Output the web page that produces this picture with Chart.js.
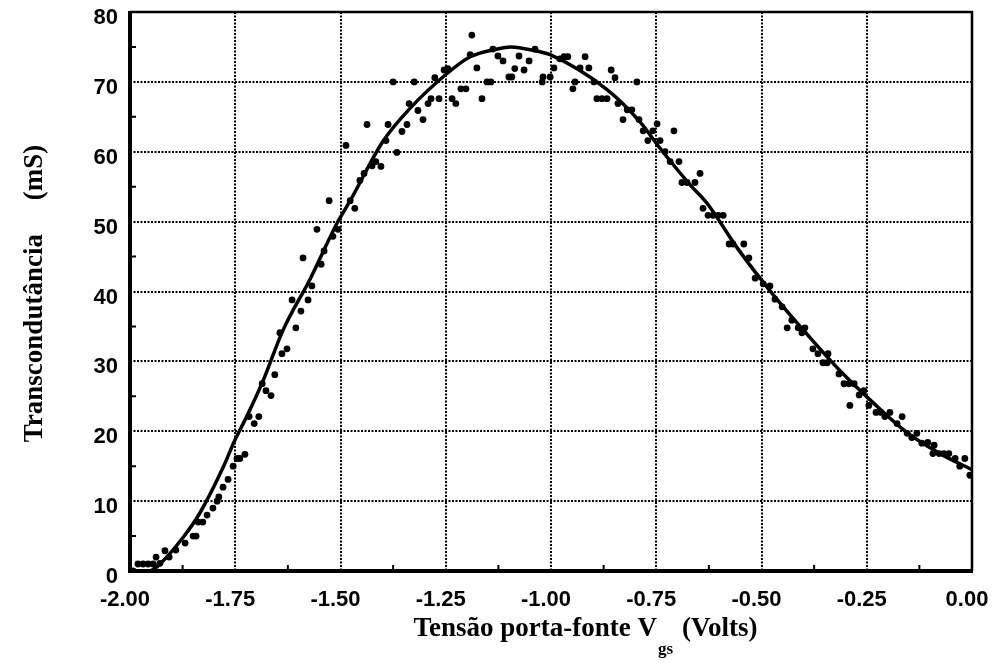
<!DOCTYPE html>
<html>
<head>
<meta charset="utf-8">
<title>Transcondutância x Vgs</title>
<script src="https://cdn.jsdelivr.net/npm/chart.js@4.4.1/dist/chart.umd.min.js"></script>
<style>
  html, body { margin: 0; padding: 0; background: #fff; }
</style>
</head>
<body>
<canvas id="gmChart" width="998" height="663"></canvas>
<script>
// measured points: gate-source voltage (V) and transconductance (mS)
const vgsMeas = [
  -1.993,-1.981,-1.969,-1.957,-1.945,-1.938,-1.929,-1.917,-1.907,-1.891,-1.869,-1.850,-1.843,-1.838,-1.827,-1.817,
  -1.803,-1.793,-1.789,-1.779,-1.767,-1.755,-1.746,-1.739,-1.727,-1.717,-1.705,-1.694,-1.686,-1.677,-1.665,
  -1.656,-1.639,-1.627,-1.644,-1.606,-1.594,-1.615,-1.577,-1.568,-1.589,-1.546,-1.539,-1.556,-1.518,-1.506,-1.466,
  -1.527,-1.477,-1.487,-1.454,-1.444,-1.425,-1.416,-1.404,-1.392,-1.366,-1.437,-1.387,-1.354,-1.342,-1.337,-1.316,
  -1.304,-1.292,-1.285,-1.266,-1.276,-1.375,-1.325,-1.254,-1.245,-1.235,-1.226,-1.214,-1.202,-1.192,-1.188,-1.176,
  -1.164,-1.152,-1.143,-1.138,-1.126,-1.114,-1.100,-1.093,-1.086,-1.076,-1.064,-1.052,-1.038,
  -1.021,-1.019,-1.002,-0.993,-0.979,-0.969,-0.960,-0.919,-0.931,-0.910,-0.943,-0.948,-0.898,-0.857,-0.848,-0.796,
  -0.891,-0.879,-0.867,-0.841,-0.819,-0.808,-0.829,-0.791,-0.781,-0.770,-0.758,-0.748,-0.741,-0.708,-0.729,-0.717,
  -0.696,-0.689,-0.677,-0.658,-0.646,-0.639,-0.627,-0.615,-0.603,-0.591,-0.577,-0.568,-0.542,
  -0.530,-0.515,-0.496,-0.480,-0.468,-0.451,-0.428,-0.439,-0.413,-0.397,-0.404,-0.378,-0.366,-0.342,-0.354,-0.344,
  -0.316,-0.304,-0.292,-0.280,-0.268,-0.257,
  -0.290,-0.245,-0.228,-0.216,-0.207,-0.195,-0.178,-0.166,-0.154,-0.143,-0.131,-0.119,-0.105,-0.093,-0.090,-0.078,
  -0.067,-0.055,-0.040,-0.029,-0.017,-0.005
];
const gmMeas = [
  0,1.0,1.0,1.0,1.0,2.0,1.1,2.9,2.0,3.0,4.0,5.0,5.0,7.0,7.0,8.0,
  9.0,10.0,10.6,12.0,13.1,15.0,16.1,16.1,16.7,22.1,21.1,22.1,26.8,25.8,25.1,
  28.1,31.1,31.8,34.1,34.8,37.2,38.8,38.8,40.8,44.8,43.9,45.8,48.9,47.9,48.9,51.9,
  53.0,53.0,60.9,55.9,56.9,58.0,58.6,57.9,61.6,59.9,63.9,63.9,62.9,63.9,66.9,65.9,
  64.6,66.9,67.6,67.6,70.6,70.0,70.0,71.7,71.9,67.6,66.9,69.0,69.0,73.9,76.7,72.0,
  67.6,70.0,70.0,74.7,73.7,73.0,70.7,70.7,71.9,73.7,71.7,73.0,74.7,
  70.0,70.7,70.7,72.0,73.3,73.6,73.6,73.6,72.0,72.0,70.0,69.0,70.0,71.7,70.6,70.0,
  67.6,67.6,67.6,66.9,66.0,66.0,64.6,64.6,63.0,61.6,63.0,64.0,61.6,63.0,60.0,58.6,
  58.6,55.6,55.6,55.6,56.9,51.9,50.9,50.9,50.9,50.9,46.8,46.8,46.8,
  44.8,41.9,41.1,40.8,38.9,37.8,35.9,34.8,34.8,34.8,34.1,31.8,31.1,31.1,29.8,29.8,
  28.2,26.8,26.8,26.8,25.2,25.8,
  23.7,23.7,22.7,22.7,22.1,22.7,21.1,22.1,19.7,19.1,19.7,18.3,18.4,16.8,18.0,16.8,
  16.8,16.8,16.1,15.0,16.1,13.7
];

// fitted curve
const vgsFit = [-1.952,-1.936,-1.874,-1.834,-1.779,-1.751,-1.722,-1.684,-1.637,-1.572,-1.508,-1.477,-1.399,
  -1.335,-1.247,-1.192,-1.128,-1.097,-1.026,-1.002,-0.867,-0.789,-0.741,-0.670,-0.629,-0.556,-0.473,-0.392,
  -0.314,-0.235,-0.154,-0.076,0.0];
const gmFit = [0,0.6,4.8,8.3,14.8,18.7,22.2,27.2,34.4,41.8,49.8,53.0,61.5,
  66.2,71.2,73.6,74.7,75.0,74.3,73.9,68.9,64.3,60.5,55.3,52.6,46.1,39.6,33.9,
  28.7,24.1,19.8,16.8,14.5];

const xMinorTicks = [-1.875,-1.625,-1.375,-1.125,-0.875,-0.625,-0.375,-0.125];
const yMinorTicks = [5,15,25,35,45,55,65,75];

const yTitle = 'Transcondutância     (mS)';
const xTitle = 'Tensão porta-fonte V';
const xTitleSub = 'gs';
const xTitleTail = ' (Volts)';

const tickFont = { family: '"Liberation Sans", Arial, sans-serif', weight: 'bold', size: 22 };
const serif = '"Liberation Serif", "Times New Roman", serif';

// frame, inside tick marks and axis titles
const framePlugin = {
  id: 'frame',
  beforeDatasetsDraw(chart) {
    const { ctx, chartArea: a, scales } = chart;
    ctx.save();
    ctx.strokeStyle = '#000';
    ctx.lineWidth = 2;
    ctx.beginPath();
    xMinorTicks.forEach(v => {
      const px = scales.x.getPixelForValue(v);
      ctx.moveTo(px, a.bottom);
      ctx.lineTo(px, a.bottom - 6);
    });
    yMinorTicks.forEach(v => {
      const py = scales.y.getPixelForValue(v);
      ctx.moveTo(a.left, py);
      ctx.lineTo(a.left + 6, py);
    });
    ctx.stroke();

    ctx.lineWidth = 2.5;
    ctx.beginPath();
    ctx.moveTo(a.left, a.top);
    ctx.lineTo(a.right, a.top);
    ctx.lineTo(a.right, a.bottom);
    ctx.stroke();
    ctx.lineWidth = 4;
    ctx.beginPath();
    ctx.moveTo(a.left, a.top - 1);
    ctx.lineTo(a.left, a.bottom);
    ctx.lineTo(a.right + 1, a.bottom);
    ctx.stroke();
    ctx.restore();
  },
  afterDraw(chart) {
    const { ctx, chartArea: a } = chart;
    ctx.save();
    ctx.fillStyle = '#000';

    // y title, rotated
    ctx.font = 'bold 27px ' + serif;
    ctx.translate(42, (a.top + a.bottom) / 2 + 2);
    ctx.rotate(-Math.PI / 2);
    ctx.textAlign = 'center';
    ctx.textBaseline = 'alphabetic';
    ctx.fillText(yTitle, 0, 0);
    ctx.setTransform(1, 0, 0, 1, 0, 0);

    // x title with subscript
    ctx.textAlign = 'left';
    ctx.font = 'bold 27px ' + serif;
    const w1 = ctx.measureText(xTitle).width;
    const w3 = ctx.measureText(xTitleTail).width;
    ctx.font = 'bold 17px ' + serif;
    const w2 = ctx.measureText(xTitleSub).width;
    let x0 = (a.left + a.right) / 2 + 33 - (w1 + w2 + w3) / 2;
    ctx.font = 'bold 27px ' + serif;
    ctx.fillText(xTitle, x0, 636);
    ctx.font = 'bold 17px ' + serif;
    ctx.fillText(xTitleSub, x0 + w1 + 1, 654);
    ctx.font = 'bold 27px ' + serif;
    ctx.fillText(xTitleTail, x0 + w1 + w2 + 3, 636);
    ctx.restore();
  }
};

const edgeGrid = (lo, hi) => (c) => {
  const v = c.tick ? c.tick.value : null;
  if (v === null || Math.abs(v - lo) < 1e-6 || Math.abs(v - hi) < 1e-6) return 'rgba(0,0,0,0)';
  return '#000';
};

// keep the plot box fixed: no extra room for overhanging tick labels
const noOverhang = s => {
  s.paddingTop = 0;
  s.paddingBottom = 0;
  s.paddingLeft = 0;
  s.paddingRight = 0;
};

new Chart(document.getElementById('gmChart'), {
  type: 'scatter',
  data: {
    datasets: [
      {
        label: 'medido',
        data: vgsMeas.map((x, i) => ({ x: x, y: gmMeas[i] })),
        pointRadius: 3.4,
        pointBackgroundColor: '#000',
        pointBorderWidth: 0,
        showLine: false
      },
      {
        label: 'ajuste',
        data: vgsFit.map((x, i) => ({ x: x, y: gmFit[i] })),
        showLine: true,
        pointRadius: 0,
        borderColor: '#000',
        borderWidth: 3.5,
        cubicInterpolationMode: 'monotone'
      }
    ]
  },
  options: {
    responsive: false,
    animation: false,
    devicePixelRatio: 1,
    layout: { padding: { top: 12, right: 26, left: 0, bottom: 0 } },
    plugins: { legend: { display: false }, tooltip: { enabled: false } },
    scales: {
      x: {
        type: 'linear',
        min: -2,
        max: 0,
        afterFit: s => { s.height = 92; noOverhang(s); },
        ticks: {
          stepSize: 0.25,
          color: '#000',
          font: tickFont,
          padding: 16,
          labelOffset: -5,
          maxRotation: 0,
          callback: v => (Math.abs(v) < 1e-9 ? 0 : v).toFixed(2)
        },
        grid: { color: edgeGrid(-2, 0), lineWidth: 2, drawTicks: false },
        border: { display: false, dash: [2, 1.5] }
      },
      y: {
        type: 'linear',
        min: 0,
        max: 80,
        afterFit: s => { s.width = 130; noOverhang(s); },
        ticks: {
          stepSize: 10,
          color: '#000',
          font: tickFont,
          padding: 12,
          labelOffset: 6
        },
        grid: { color: edgeGrid(0, 80), lineWidth: 2, drawTicks: false },
        border: { display: false, dash: [2, 1.5] }
      }
    }
  },
  plugins: [framePlugin]
});
</script>
</body>
</html>
